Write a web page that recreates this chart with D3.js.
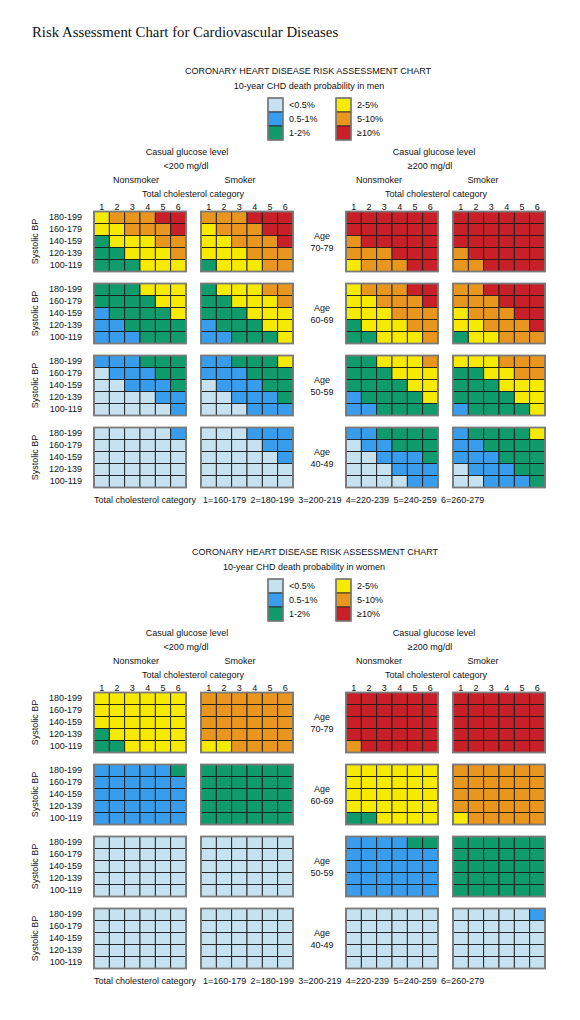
<!DOCTYPE html>
<html><head><meta charset="utf-8">
<script src="https://cdn.jsdelivr.net/npm/d3@7"></script>
<style>body{margin:0;background:#fff}svg{display:block}</style>
</head><body>
<svg id="chart" width="580" height="1020"></svg>
<script>
// ---------- data ----------
const riskLevels = [0, 1, 2, 3, 4, 5];
const riskLabels = ["<0.5%", "0.5-1%", "1-2%", "2-5%", "5-10%", "≥10%"];
const riskColors = ["#c6e2f1", "#389ded", "#0f9b6b", "#f6ea00", "#e8961e", "#c81f28"];
const cholCategories = ["1", "2", "3", "4", "5", "6"];
const cholRanges = ["1=160-179", "2=180-199", "3=200-219", "4=220-239", "5=240-259", "6=260-279"];
const bpLabels = ["180-199", "160-179", "140-159", "120-139", "100-119"];
const ageGroups = ["70-79", "60-69", "50-59", "40-49"];
const glucoseLabels = ["<200 mg/dl", "≥200 mg/dl"];
const smokingLabels = ["Nonsmoker", "Smoker"];

// each row = one BP class; 24 values = [Nonsmoker <200 | Smoker <200 | Nonsmoker ≥200 | Smoker ≥200] x 6 cholesterol classes
const men7079 = [
  [3,4,4,4,5,5, 4,4,4,5,5,5, 5,5,5,5,5,5, 5,5,5,5,5,5],
  [3,3,4,4,4,5, 3,4,4,4,5,5, 5,5,5,5,5,5, 5,5,5,5,5,5],
  [2,3,3,3,4,4, 3,3,4,4,4,5, 4,5,5,5,5,5, 5,5,5,5,5,5],
  [2,2,3,3,3,4, 3,3,3,4,4,4, 4,4,4,5,5,5, 4,5,5,5,5,5],
  [2,2,2,3,3,3, 2,3,3,3,4,4, 3,4,4,4,5,5, 4,4,5,5,5,5]
];
const men6069 = [
  [2,2,2,3,3,3, 2,3,3,3,4,4, 3,4,4,4,5,5, 4,4,5,5,5,5],
  [2,2,2,2,3,3, 2,2,3,3,3,4, 3,3,4,4,4,5, 4,4,4,5,5,5],
  [1,2,2,2,2,3, 2,2,2,3,3,3, 3,3,3,4,4,4, 3,4,4,4,5,5],
  [1,1,2,2,2,2, 1,2,2,2,3,3, 2,3,3,3,4,4, 3,3,4,4,4,5],
  [1,1,1,2,2,2, 1,1,2,2,2,3, 2,2,3,3,3,4, 2,3,3,4,4,4]
];
const men5059 = [
  [1,1,1,2,2,2, 1,1,2,2,2,3, 2,2,3,3,3,4, 3,3,3,4,4,4],
  [0,1,1,1,2,2, 1,1,1,2,2,2, 2,2,2,3,3,3, 2,2,3,3,4,4],
  [0,0,1,1,1,2, 0,1,1,1,2,2, 2,2,2,2,3,3, 2,2,2,3,3,3],
  [0,0,0,0,1,1, 0,0,1,1,1,2, 1,2,2,2,2,3, 2,2,2,2,3,3],
  [0,0,0,0,0,1, 0,0,0,1,1,1, 1,1,2,2,2,2, 1,2,2,2,2,3]
];
const men4049 = [
  [0,0,0,0,0,1, 0,0,0,1,1,1, 1,1,2,2,2,2, 1,2,2,2,2,3],
  [0,0,0,0,0,0, 0,0,0,0,1,1, 0,1,1,2,2,2, 1,1,2,2,2,2],
  [0,0,0,0,0,0, 0,0,0,0,0,1, 0,0,1,1,1,2, 1,1,1,2,2,2],
  [0,0,0,0,0,0, 0,0,0,0,0,0, 0,0,0,1,1,1, 0,1,1,1,2,2],
  [0,0,0,0,0,0, 0,0,0,0,0,0, 0,0,0,0,1,1, 0,0,1,1,1,2]
];
const women7079 = [
  [3,3,3,3,3,3, 4,4,4,4,4,4, 5,5,5,5,5,5, 5,5,5,5,5,5],
  [3,3,3,3,3,3, 4,4,4,4,4,4, 5,5,5,5,5,5, 5,5,5,5,5,5],
  [3,3,3,3,3,3, 4,4,4,4,4,4, 5,5,5,5,5,5, 5,5,5,5,5,5],
  [2,3,3,3,3,3, 4,4,4,4,4,4, 5,5,5,5,5,5, 5,5,5,5,5,5],
  [2,2,3,3,3,3, 3,3,4,4,4,4, 4,5,5,5,5,5, 5,5,5,5,5,5]
];
const women6069 = [
  [1,1,1,1,1,2, 2,2,2,2,2,2, 3,3,3,3,3,3, 4,4,4,4,4,4],
  [1,1,1,1,1,1, 2,2,2,2,2,2, 3,3,3,3,3,3, 4,4,4,4,4,4],
  [1,1,1,1,1,1, 2,2,2,2,2,2, 3,3,3,3,3,3, 4,4,4,4,4,4],
  [1,1,1,1,1,1, 2,2,2,2,2,2, 3,3,3,3,3,3, 4,4,4,4,4,4],
  [1,1,1,1,1,1, 2,2,2,2,2,2, 2,2,3,3,3,3, 3,4,4,4,4,4]
];
const women5059 = [
  [0,0,0,0,0,0, 0,0,0,0,0,0, 1,1,1,1,2,2, 2,2,2,2,2,2],
  [0,0,0,0,0,0, 0,0,0,0,0,0, 1,1,1,1,1,1, 2,2,2,2,2,2],
  [0,0,0,0,0,0, 0,0,0,0,0,0, 1,1,1,1,1,1, 2,2,2,2,2,2],
  [0,0,0,0,0,0, 0,0,0,0,0,0, 1,1,1,1,1,1, 2,2,2,2,2,2],
  [0,0,0,0,0,0, 0,0,0,0,0,0, 1,1,1,1,1,1, 2,2,2,2,2,2]
];
const women4049 = [
  [0,0,0,0,0,0, 0,0,0,0,0,0, 0,0,0,0,0,0, 0,0,0,0,0,1],
  [0,0,0,0,0,0, 0,0,0,0,0,0, 0,0,0,0,0,0, 0,0,0,0,0,0],
  [0,0,0,0,0,0, 0,0,0,0,0,0, 0,0,0,0,0,0, 0,0,0,0,0,0],
  [0,0,0,0,0,0, 0,0,0,0,0,0, 0,0,0,0,0,0, 0,0,0,0,0,0],
  [0,0,0,0,0,0, 0,0,0,0,0,0, 0,0,0,0,0,0, 0,0,0,0,0,0]
];

// ---------- layout ----------
const svg = d3.select("#chart");
const SANS = "'Liberation Sans', Arial, Helvetica, sans-serif";
const FS = 9;
const color = d3.scaleOrdinal(riskLevels, riskColors);
const gridX = [94, 201, 346, 453];
const gridW = 92, gridH = 60, agePitch = 72, firstTop = 211.5;

svg.append("text")
  .attr("x", 32).attr("y", 36.5)
  .attr("font-family", "'Liberation Serif', 'DejaVu Serif', serif")
  .attr("font-size", 14.8).attr("fill", "#111")
  .text("Risk Assessment Chart for Cardiovascular Diseases");

const sections = [
  { sex: "men", dy: 0, data: [men7079, men6069, men5059, men4049], cx1: 308, cx2: 309 },
  { sex: "women", dy: 481, data: [women7079, women6069, women5059, women4049], cx1: 315, cx2: 304 }
];

function txt(g, x, y, s, anchor) {
  return g.append("text").attr("x", x).attr("y", y)
    .attr("text-anchor", anchor || "middle")
    .attr("font-family", SANS).attr("font-size", FS).attr("fill", "#111").text(s);
}

sections.forEach(sec => {
  const g = svg.append("g").attr("transform", `translate(0,${sec.dy})`);
  txt(g, sec.cx1, 73.5, "CORONARY HEART DISEASE RISK ASSESSMENT CHART");
  txt(g, sec.cx2, 88.5, `10-year CHD death probability in ${sec.sex}`);

  // legend
  const legY = d3.scaleBand().domain([0, 1, 2]).range([98, 140]);
  [[0, 1, 2], [3, 4, 5]].forEach((lvls, ci) => {
    const lx = [268, 336][ci];
    const lg = g.append("g");
    lg.selectAll("rect.sw").data(lvls).join("rect")
      .attr("x", lx).attr("y", (d, i) => legY(i))
      .attr("width", 15).attr("height", legY.bandwidth())
      .attr("fill", d => color(d)).attr("stroke", "#222").attr("stroke-width", 0.8);
    lg.append("rect").attr("x", lx).attr("y", 98).attr("width", 15).attr("height", 42)
      .attr("fill", "none").attr("stroke", "#808080").attr("stroke-width", 1.5);
    lvls.forEach((d, i) => txt(lg, lx + 21, legY(i) + legY.bandwidth() / 2 + 3.2, riskLabels[d], "start"));
  });

  // headers
  const casualX = [187, 434], glucX = [186, 430], totX = [193, 436];
  const smokeX = [[136, 240], [379, 483]];
  [0, 1].forEach(k => {
    txt(g, casualX[k], 154.5, "Casual glucose level");
    txt(g, glucX[k], 168.5, glucoseLabels[k]);
    txt(g, smokeX[k][0], 182.5, smokingLabels[0]);
    txt(g, smokeX[k][1], 182.5, smokingLabels[1]);
    txt(g, totX[k], 196.5, "Total cholesterol category");
  });

  // column number axes
  gridX.forEach(gx => {
    const xs = d3.scaleBand().domain(cholCategories).range([gx, gx + gridW]);
    const ax = g.append("g").attr("transform", `translate(0,${firstTop - 2})`)
      .call(d3.axisTop(xs).tickSize(0).tickPadding(0));
    ax.select(".domain").remove();
    ax.selectAll("text").attr("font-family", SANS).attr("font-size", FS).attr("fill", "#111");
  });

  // age blocks
  sec.data.forEach((rows, ai) => {
    const top = firstTop + ai * agePitch;
    const ys = d3.scaleBand().domain(bpLabels).range([top, top + gridH]);

    // BP axis
    const ay = g.append("g").attr("transform", `translate(82,0)`)
      .call(d3.axisLeft(ys).tickSize(0).tickPadding(0));
    ay.select(".domain").remove();
    ay.selectAll("text").attr("font-family", SANS).attr("font-size", FS).attr("fill", "#111");

    g.append("text")
      .attr("transform", `translate(38,${top + gridH / 2}) rotate(-90)`)
      .attr("text-anchor", "middle").attr("font-family", SANS).attr("font-size", FS)
      .attr("fill", "#111").text("Systolic BP");

    txt(g, 322, top + gridH / 2 - 3, "Age");
    txt(g, 322, top + gridH / 2 + 9, ageGroups[ai]);

    gridX.forEach((gx, pi) => {
      const xs = d3.scaleBand().domain(cholCategories).range([gx, gx + gridW]);
      const cells = [];
      rows.forEach((r, ri) => cholCategories.forEach((c, ci) =>
        cells.push({ bp: bpLabels[ri], chol: c, v: r[pi * 6 + ci] })));
      const cg = g.append("g");
      cg.selectAll("rect").data(cells).join("rect")
        .attr("x", d => xs(d.chol)).attr("y", d => ys(d.bp))
        .attr("width", xs.bandwidth()).attr("height", ys.bandwidth())
        .attr("fill", d => color(d.v))
        .attr("stroke", "#1c1c1c").attr("stroke-width", 0.9);
      cg.append("rect").attr("x", gx).attr("y", top).attr("width", gridW).attr("height", gridH)
        .attr("fill", "none").attr("stroke", "#7a7a7a").attr("stroke-width", 1.8);
    });
  });

  // footer
  const footY = firstTop + 3 * agePitch + gridH + 15.5;
  txt(g, 94, footY, "Total cholesterol category", "start");
  const fx = d3.scalePoint().domain(cholRanges).range([203, 441]);
  cholRanges.forEach(s => txt(g, fx(s), footY, s, "start"));
});
</script>
</body></html>
